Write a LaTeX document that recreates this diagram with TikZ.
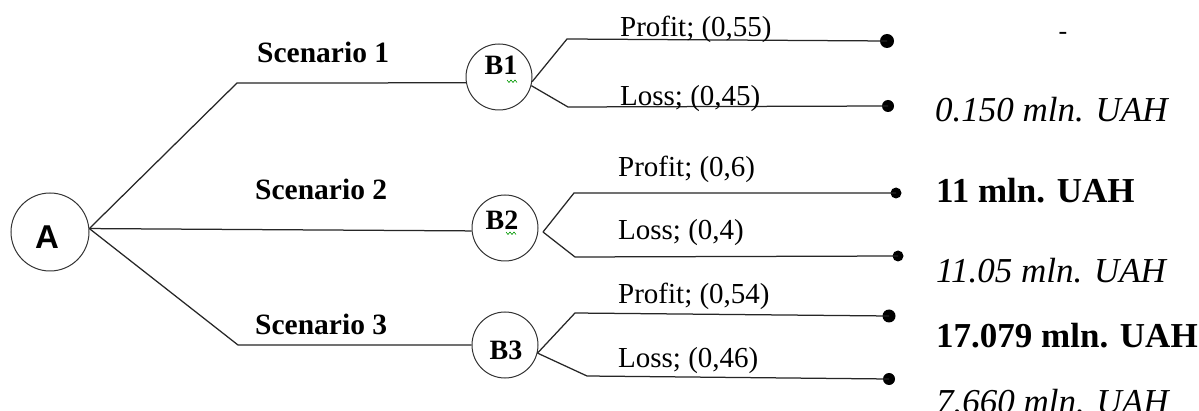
\documentclass[tikz,border=0pt]{standalone}
\usepackage{fontspec}
\setmainfont{Liberation Serif}
\newfontfamily\labelsans{Liberation Sans}
\begin{document}
\begin{tikzpicture}[x=1pt,y=-1pt,
  edge/.style={draw=black!85,line width=1.25pt},
  chance/.style={circle,draw=black!80,line width=1pt,inner sep=0pt,minimum size=66pt},
  root/.style={circle,draw=black!80,line width=1pt,inner sep=0pt,minimum size=78pt},
  leaf/.style={circle,fill=black,inner sep=0pt,minimum size=13pt},
  scen/.style={anchor=base west,inner sep=0pt,font=\fontsize{29.5}{32}\selectfont\bfseries},
  prob/.style={anchor=base west,inner sep=0pt,font=\fontsize{29}{32}\selectfont},
  outbold/.style={anchor=base west,inner sep=0pt,font=\fontsize{35}{38}\selectfont\bfseries},
  outital/.style={anchor=base west,inner sep=0pt,font=\fontsize{35}{38}\selectfont\itshape},
  squiggle/.style={draw=green!60!black,line width=0.6pt}]
\useasboundingbox (0,0) rectangle (1199,411);
\fill[white] (0,0) rectangle (1199,411);

% decision and chance nodes
\node[root] (A) at (50,232) {};
\node[font=\fontsize{33}{35}\selectfont\labelsans\bfseries,inner sep=0pt] (Alab) at (47,237) {A};
\node[chance] (B1) at (499,77) {};
\node[chance] (B2) at (505,228) {};
\node[chance] (B3) at (505,345) {};
\node[font=\fontsize{28}{30}\selectfont\bfseries,inner sep=0pt] (B1lab) at (501,65) {B1};
\node[font=\fontsize{28}{30}\selectfont\bfseries,inner sep=0pt] (B2lab) at (502,220) {B2};
\node[font=\fontsize{28}{30}\selectfont\bfseries,inner sep=0pt] (B3lab) at (506,350) {B3};

% spell-check marks under the digits
\draw[squiggle] (507,80) -- (509,82.5) -- (511,80) -- (513,82.5) -- (515,80) -- (517,82.5);
\draw[squiggle] (506,232) -- (508,234.5) -- (510,232) -- (512,234.5) -- (514,232) -- (516,234.5);

% bends of the branches
\coordinate (s1) at (237,83);
\coordinate (s3) at (238,345);
\coordinate (p1) at (567,39);
\coordinate (l1) at (568,107);
\coordinate (b2v) at (543,232);
\coordinate (p2) at (574,193);
\coordinate (l2) at (575,257);
\coordinate (p3) at (575,313);
\coordinate (l3) at (587,376);

% end points
\node[leaf,minimum size=14pt] (e1) at (887,41) {};
\node[leaf,minimum size=12pt] (e2) at (888,106) {};
\node[leaf,minimum size=11pt] (e3) at (896,193) {};
\node[leaf,minimum size=11pt] (e4) at (898,256) {};
\node[leaf] (e5) at (889,316) {};
\node[leaf,minimum size=12pt] (e6) at (889,379) {};

% scenario branches
\draw[edge] (A.5) -- (s1) -- (B1.190);
\draw[edge] (A.5) -- (B2.185);
\draw[edge] (A.5) -- (s3) -- (B3.180);

% outcome branches
\draw[edge] (B1.-8) -- (p1) -- (e1.center);
\draw[edge] (B1.-15) -- (l1) -- (e2.center);
\draw[edge] (b2v) -- (p2) -- (e3.center);
\draw[edge] (b2v) -- (l2) -- (e4.center);
\draw[edge] (B3.-14) -- (p3) -- (e5.center);
\draw[edge] (B3.-14) -- (l3) -- (e6.center);

% scenario labels
\node[scen] (sc1) at (257,63) {Scenario 1};
\node[scen] (sc2) at (255,200) {Scenario 2};
\node[scen] (sc3) at (255,335) {Scenario 3};

% probabilities
\node[prob] (pr1) at (620,37) {Profit; (0,55)};
\node[prob] (lo1) at (620,106) {Loss; (0,45)};
\node[prob] (pr2) at (618,177) {Profit; (0,6)};
\node[prob] (lo2) at (618,240) {Loss; (0,4)};
\node[prob] (pr3) at (618,304) {Profit; (0,54)};
\node[prob] (lo3) at (618,367) {Loss; (0,46)};

% outcomes
\node[anchor=base,inner sep=0pt,font=\fontsize{26}{28}\selectfont] (o1) at (1063,40) {-};
\node[outital] (o2) at (935,122) {0.150 mln. UAH};
\node[outbold] (o3) at (936,203) {11 mln. UAH};
\node[outital] (o4) at (936,283) {11.05 mln. UAH};
\node[outbold] (o5) at (936,348) {17.079 mln. UAH};
\node[outital] (o6) at (936,413) {7.660 mln. UAH};
\end{tikzpicture}
\end{document}
